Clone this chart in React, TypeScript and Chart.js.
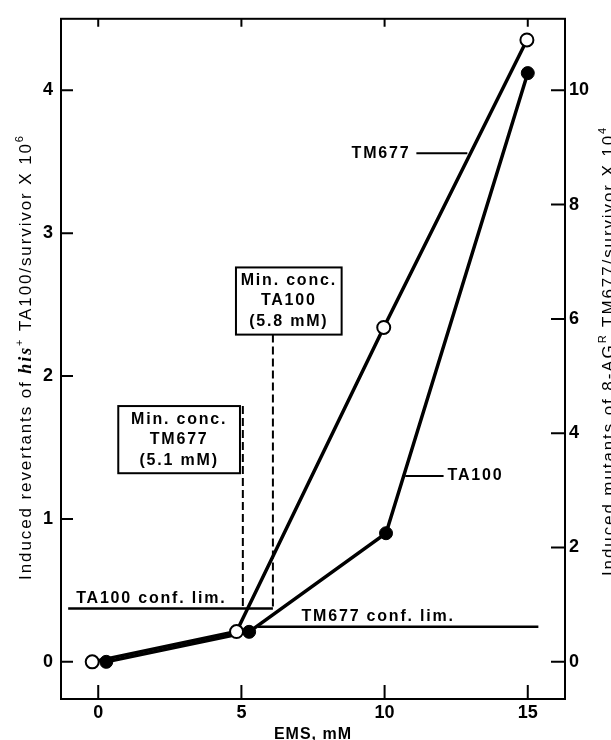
import React, { useEffect, useRef } from "react";
import { Chart, registerables } from "chart.js";

Chart.register(...registerables);

// ---- data ----
const xTicks = [0, 5, 10, 15];
const leftTicks = [0, 1, 2, 3, 4];
const rightTicks = [0, 2, 4, 6, 8, 10];

// TA100: induced his+ revertants / survivor x 10^6 (left axis)
const ta100Dose = [0.28, 5.27, 10.05, 15.0];
const ta100Revertants = [0, 0.21, 0.9, 4.12];

// TM677: induced 8-AG^R mutants / survivor x 10^4 (right axis)
const tm677Dose = [-0.21, 4.83, 9.97, 14.97];
const tm677Mutants = [0, 0.53, 5.85, 10.88];

// confidence limits
const ta100ConfLim = 0.373; // left axis units
const tm677ConfLim = 0.615; // right axis units

// minimum concentration markers (EMS, mM)
const tm677MinConc = 5.05;
const ta100MinConc = 6.1;

const FONT = '"Liberation Sans", Arial, Helvetica, sans-serif';

type Span = { text: string; font: string; rise?: number };

function spansWidth(ctx: CanvasRenderingContext2D, spans: Span[]) {
  let w = 0;
  for (const s of spans) {
    ctx.font = s.font;
    w += ctx.measureText(s.text).width;
  }
  return w;
}

function drawSpans(ctx: CanvasRenderingContext2D, spans: Span[], x0: number, y0: number) {
  let x = x0;
  for (const s of spans) {
    ctx.font = s.font;
    ctx.fillText(s.text, x, y0 - (s.rise || 0));
    x += ctx.measureText(s.text).width;
  }
}

const annotations = {
  id: "annotations",
  beforeDatasetsDraw(chart: any) {
    const { ctx, scales } = chart;
    const x = scales.x;
    const y = scales.y;
    const y2 = scales.y2;
    ctx.save();
    ctx.strokeStyle = "#000";
    ctx.lineWidth = 2.5;
    // TA100 conf. lim.
    ctx.beginPath();
    ctx.moveTo(x.getPixelForValue(-1.05), y.getPixelForValue(ta100ConfLim));
    ctx.lineTo(x.getPixelForValue(ta100MinConc), y.getPixelForValue(ta100ConfLim));
    ctx.stroke();
    // TM677 conf. lim.
    ctx.beginPath();
    ctx.moveTo(x.getPixelForValue(5.58), y2.getPixelForValue(tm677ConfLim));
    ctx.lineTo(x.getPixelForValue(15.37), y2.getPixelForValue(tm677ConfLim));
    ctx.stroke();
    ctx.lineWidth = 2;
    // boxes
    ctx.strokeRect(
      x.getPixelForValue(0.7),
      y.getPixelForValue(1.79),
      x.getPixelForValue(4.95) - x.getPixelForValue(0.7),
      y.getPixelForValue(1.32) - y.getPixelForValue(1.79)
    );
    ctx.strokeRect(
      x.getPixelForValue(4.81),
      y.getPixelForValue(2.76),
      x.getPixelForValue(8.5) - x.getPixelForValue(4.81),
      y.getPixelForValue(2.29) - y.getPixelForValue(2.76)
    );
    // dashed min conc lines
    ctx.setLineDash([8, 4]);
    ctx.beginPath();
    ctx.moveTo(x.getPixelForValue(tm677MinConc), y.getPixelForValue(1.79));
    ctx.lineTo(x.getPixelForValue(tm677MinConc), y.getPixelForValue(ta100ConfLim));
    ctx.moveTo(x.getPixelForValue(ta100MinConc), y.getPixelForValue(2.29));
    ctx.lineTo(x.getPixelForValue(ta100MinConc), y.getPixelForValue(ta100ConfLim));
    ctx.stroke();
    ctx.setLineDash([]);
    // label leader lines
    ctx.beginPath();
    ctx.moveTo(x.getPixelForValue(11.11), y.getPixelForValue(3.56));
    ctx.lineTo(x.getPixelForValue(12.89), y.getPixelForValue(3.56));
    ctx.moveTo(x.getPixelForValue(10.72), y.getPixelForValue(1.3));
    ctx.lineTo(x.getPixelForValue(12.06), y.getPixelForValue(1.3));
    ctx.stroke();
    ctx.restore();
  },
  afterDraw(chart: any) {
    const { ctx, scales, chartArea: a } = chart;
    const x = scales.x;
    const y = scales.y;
    const y2 = scales.y2;
    ctx.save();
    ctx.strokeStyle = "#000";
    ctx.fillStyle = "#000";
    ctx.lineWidth = 2;
    ctx.strokeRect(a.left, a.top, a.right - a.left, a.bottom - a.top);
    // inward tick marks
    ctx.beginPath();
    for (const t of x.ticks) {
      const px = x.getPixelForValue(t.value);
      ctx.moveTo(px, a.bottom);
      ctx.lineTo(px, a.bottom - 14);
      ctx.moveTo(px, a.top);
      ctx.lineTo(px, a.top + 8);
    }
    for (const t of y.ticks) {
      const py = y.getPixelForValue(t.value);
      ctx.moveTo(a.left, py);
      ctx.lineTo(a.left + 12, py);
    }
    for (const t of y2.ticks) {
      const py = y2.getPixelForValue(t.value);
      ctx.moveTo(a.right, py);
      ctx.lineTo(a.right - 14, py);
    }
    ctx.stroke();

    // annotation texts
    (ctx as any).letterSpacing = "1.8px";
    const bold = `bold 16px ${FONT}`;
    ctx.font = bold;
    ctx.textBaseline = "alphabetic";
    ctx.textAlign = "left";
    ctx.fillText("TA100 conf. lim.", x.getPixelForValue(-0.77), y.getPixelForValue(0.415));
    ctx.fillText("TM677 conf. lim.", x.getPixelForValue(7.1), y.getPixelForValue(0.288));
    ctx.textBaseline = "middle";
    ctx.fillText("TA100", x.getPixelForValue(12.2), y.getPixelForValue(1.3));
    ctx.textAlign = "right";
    ctx.fillText("TM677", x.getPixelForValue(10.9), y.getPixelForValue(3.56));
    ctx.textAlign = "center";
    const boxText = (x0: number, x1: number, yTop: number, yBot: number, lines: string[]) => {
      const cx = (x.getPixelForValue(x0) + x.getPixelForValue(x1)) / 2;
      const top = y.getPixelForValue(yTop);
      const h = y.getPixelForValue(yBot) - top;
      const fr = [0.2, 0.5, 0.81];
      lines.forEach((l, i) => ctx.fillText(l, cx, top + h * fr[i]));
    };
    boxText(0.7, 4.95, 1.79, 1.32, ["Min. conc.", "TM677", "(5.1 mM)"]);
    boxText(4.81, 8.5, 2.76, 2.29, ["Min. conc.", "TA100", "(5.8 mM)"]);

    // axis titles
    ctx.textAlign = "left";
    ctx.textBaseline = "alphabetic";
    (ctx as any).letterSpacing = "1.9px";
    const reg = `17px ${FONT}`;
    const sup = `11px ${FONT}`;
    const leftTitle: Span[] = [
      { text: "Induced revertants of ", font: reg },
      { text: "his", font: `italic bold 18px "Liberation Serif", serif` },
      { text: "+", font: sup, rise: 8 },
      { text: " TA100/survivor X 10", font: reg },
      { text: "6", font: sup, rise: 8 },
    ];
    const rightTitle: Span[] = [
      { text: "Induced mutants of 8-AG", font: reg },
      { text: "R", font: sup, rise: 8 },
      { text: " TM677/survivor X 10", font: reg },
      { text: "4", font: sup, rise: 8 },
    ];
    ctx.save();
    ctx.translate(31, 357);
    ctx.rotate(-Math.PI / 2);
    drawSpans(ctx, leftTitle, -spansWidth(ctx, leftTitle) / 2, 0);
    ctx.restore();
    ctx.save();
    ctx.translate(a.right + 49, 351);
    ctx.rotate(-Math.PI / 2);
    drawSpans(ctx, rightTitle, -spansWidth(ctx, rightTitle) / 2, 0);
    ctx.restore();

    (ctx as any).letterSpacing = "1px";
    ctx.font = `bold 16px ${FONT}`;
    ctx.textAlign = "center";
    ctx.fillText("EMS, mM", (a.left + a.right) / 2, 739);
    ctx.restore();
  },
};

export default function App() {
  const ref = useRef<HTMLCanvasElement | null>(null);
  useEffect(() => {
    if (!ref.current) return;
    const tickFont = { family: FONT, size: 18, weight: "bold" as const };
    const chart = new Chart(ref.current, {
      type: "scatter",
      data: {
        datasets: [
          {
            label: "TM677",
            data: tm677Dose.map((d, i) => ({ x: d, y: tm677Mutants[i] })),
            yAxisID: "y2",
            showLine: true,
            borderColor: "#000",
            borderWidth: 3.5,
            pointRadius: 6.5,
            pointBorderWidth: 2,
            pointBackgroundColor: "#fff",
            pointBorderColor: "#000",
          },
          {
            label: "TA100",
            data: ta100Dose.map((d, i) => ({ x: d, y: ta100Revertants[i] })),
            yAxisID: "y",
            showLine: true,
            borderColor: "#000",
            borderWidth: 3.5,
            pointRadius: 6.5,
            pointBorderWidth: 1,
            pointBackgroundColor: "#000",
            pointBorderColor: "#000",
          },
        ],
      },
      options: {
        responsive: false,
        animation: false,
        devicePixelRatio: 1,
        layout: { padding: { top: 14, left: 0, right: 0, bottom: 0 } },
        plugins: { legend: { display: false }, tooltip: { enabled: false } },
        scales: {
          x: {
            type: "linear",
            min: -1.3,
            max: 16.3,
            afterBuildTicks: (s: any) => {
              s.ticks = xTicks.map((v) => ({ value: v }));
            },
            afterFit: (s: any) => {
              s.height = 41;
            },
            grid: { display: false, drawTicks: false },
            border: { display: false },
            ticks: { font: tickFont, color: "#000", padding: 3, maxRotation: 0, autoSkip: false },
          },
          y: {
            type: "linear",
            position: "left",
            min: -0.26,
            max: 4.5,
            afterBuildTicks: (s: any) => {
              s.ticks = leftTicks.map((v) => ({ value: v }));
            },
            afterFit: (s: any) => {
              s.width = 61;
            },
            grid: { display: false, drawTicks: false },
            border: { display: false },
            ticks: { font: tickFont, color: "#000", padding: 8 },
          },
          y2: {
            type: "linear",
            position: "right",
            min: -0.65,
            max: 11.25,
            afterBuildTicks: (s: any) => {
              s.ticks = rightTicks.map((v) => ({ value: v }));
            },
            afterFit: (s: any) => {
              s.width = 46;
            },
            grid: { display: false, drawTicks: false },
            border: { display: false },
            ticks: { font: tickFont, color: "#000", padding: 4 },
          },
        },
      },
      plugins: [annotations],
    });
    return () => chart.destroy();
  }, []);
  return (
    <div style={{ position: "absolute", left: 0, top: 0, width: 611, height: 740, background: "#fff" }}>
      <canvas ref={ref} width={611} height={740} style={{ display: "block" }} />
    </div>
  );
}
